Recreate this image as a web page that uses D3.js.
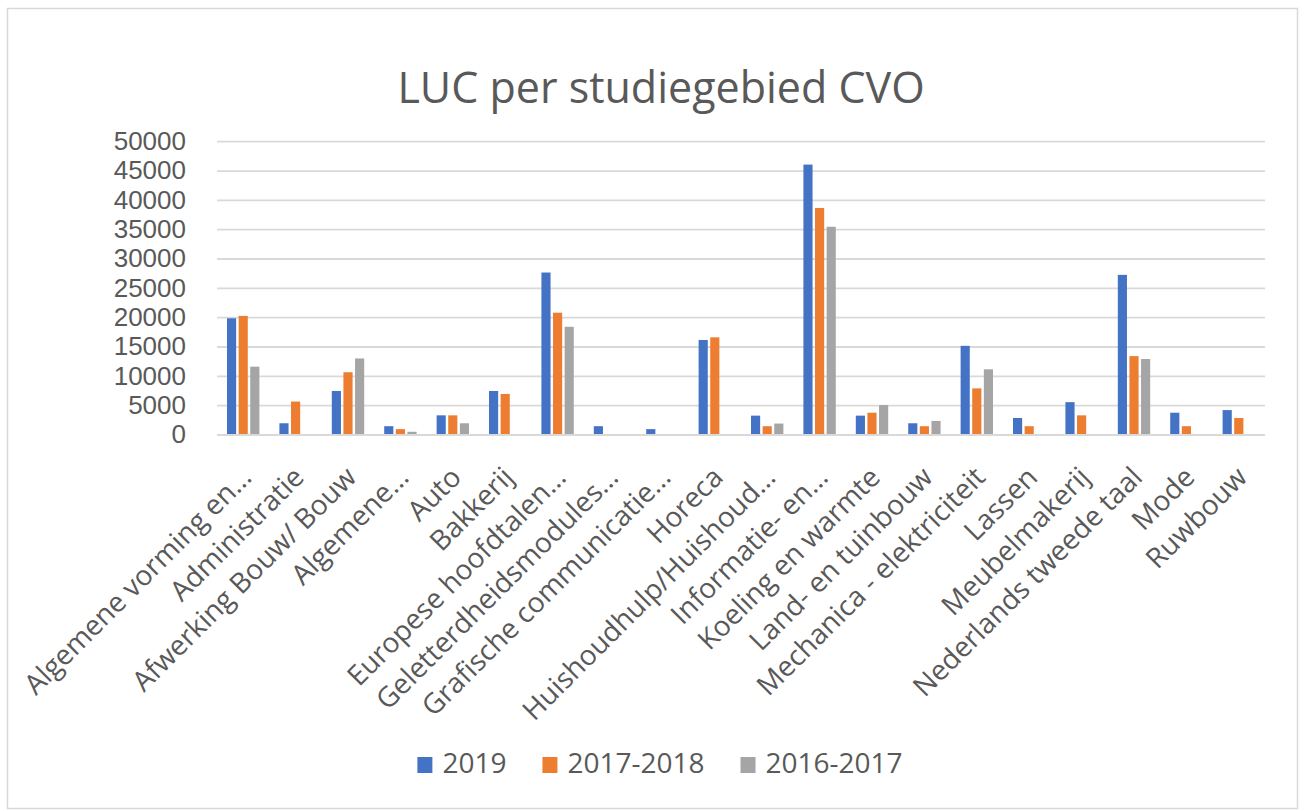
<!DOCTYPE html>
<html>
<head>
<meta charset="utf-8">
<script src="https://cdnjs.cloudflare.com/ajax/libs/d3/7.8.5/d3.min.js"></script>
<style>
  body { margin: 0; background: #fff; }
  svg text { font-family: "Open Sans", sans-serif; fill: #595959; }
</style>
</head>
<body>
<svg id="chart" width="1306" height="811"></svg>
<script>
var categories = ["Algemene vorming en…", "Administratie", "Afwerking Bouw/ Bouw", "Algemene…", "Auto",
    "Bakkerij", "Europese hoofdtalen…", "Geletterdheidsmodules…", "Grafische communicatie…", "Horeca",
    "Huishoudhulp/Huishoud…", "Informatie- en…", "Koeling en warmte", "Land- en tuinbouw",
    "Mechanica - elektriciteit", "Lassen", "Meubelmakerij", "Nederlands tweede taal", "Mode", "Ruwbouw"];

var seriesNames = ["2019", "2017-2018", "2016-2017"];
var seriesColors = ["#4472C4", "#ED7D31", "#A5A5A5"];

var values2019 = [19900, 2000, 7500, 1500, 3350, 7500, 27700, 1500, 1000, 16200,
    3300, 46100, 3300, 2000, 15200, 2900, 5600, 27300, 3800, 4250];
var values2017 = [20300, 5700, 10700, 1000, 3350, 7000, 20850, 0, 0, 16650,
    1500, 38700, 3800, 1500, 7950, 1500, 3350, 13450, 1500, 2900];
var values2016 = [11650, 0, 13050, 550, 2000, 0, 18450, 0, 0, 0,
    1950, 35500, 5100, 2400, 11200, 0, 0, 12950, 0, 0];

var yTicks = [0, 5000, 10000, 15000, 20000, 25000, 30000, 35000, 40000, 45000, 50000];

var title = "LUC per studiegebied CVO";

var seriesValues = [values2019, values2017, values2016];

var svg = d3.select("#chart");

var plot = { left: 217, right: 1265, top: 141.7, bottom: 435 };

// chart frame
svg.append("rect")
    .attr("x", 7.5)
    .attr("y", 8.5)
    .attr("width", 1290)
    .attr("height", 800)
    .attr("fill", "#fff")
    .attr("stroke", "#D9D9D9")
    .attr("stroke-width", 1.5);

var y = d3.scaleLinear()
    .domain([0, 50000])
    .range([plot.bottom, plot.top]);

// gap width 219%, overlap -27% like the spreadsheet default
var x0 = d3.scaleBand()
    .domain(categories)
    .range([plot.left, plot.right])
    .paddingInner(2.19 / 5.73)
    .paddingOuter(2.19 / 5.73 / 2);

var x1 = d3.scaleBand()
    .domain(seriesNames)
    .range([0, x0.bandwidth()])
    .paddingInner(0.27 / 1.27);

// gridlines
svg.append("g")
    .selectAll("line")
    .data(yTicks.filter(function(d) { return d > 0; }))
    .enter()
    .append("line")
    .attr("x1", plot.left)
    .attr("x2", plot.right)
    .attr("y1", function(d) { return y(d); })
    .attr("y2", function(d) { return y(d); })
    .attr("stroke", "#D9D9D9")
    .attr("stroke-width", 1.8);

// y labels (tight font so the stacked labels don't collide)
var yAxis = d3.axisLeft(y)
    .tickValues(yTicks)
    .tickSize(0)
    .tickPadding(0)
    .tickFormat(d3.format("d"));

var yg = svg.append("g")
    .attr("transform", "translate(186,0)")
    .call(yAxis);
yg.select(".domain").remove();
yg.selectAll("text")
    .attr("font-size", 26)
    .attr("dy", "0.3em")
    .style("font-family", "'Liberation Sans', sans-serif")
    .attr("fill", "#595959");

// bars
var groups = svg.append("g")
    .selectAll("g")
    .data(categories)
    .enter()
    .append("g")
    .attr("transform", function(d) { return "translate(" + x0(d) + ",0)"; });

groups.selectAll("rect")
    .data(function(d, i) {
        return seriesNames.map(function(s, j) {
            return { series: s, value: seriesValues[j][i], color: seriesColors[j] };
        });
    })
    .enter()
    .append("rect")
    .attr("x", function(d) { return x1(d.series); })
    .attr("width", x1.bandwidth())
    .attr("y", function(d) { return y(d.value); })
    .attr("height", function(d) { return plot.bottom - y(d.value); })
    .attr("fill", function(d) { return d.color; });

// category axis line
svg.append("line")
    .attr("x1", plot.left)
    .attr("x2", plot.right)
    .attr("y1", plot.bottom)
    .attr("y2", plot.bottom)
    .attr("stroke", "#D9D9D9")
    .attr("stroke-width", 1.8);

// category labels
svg.append("g")
    .selectAll("text")
    .data(categories)
    .enter()
    .append("text")
    .attr("transform", function(d) {
        var cx = x0(d) + x0.bandwidth() / 2;
        return "translate(" + (cx + 10) + "," + (plot.bottom + 44) + ") rotate(-45)";
    })
    .attr("text-anchor", "end")
    .attr("font-size", 28)
    .text(function(d) { return d; });

// title
svg.append("text")
    .attr("x", 661)
    .attr("y", 103)
    .attr("text-anchor", "middle")
    .attr("font-size", 43)
    .text(title);

// legend
var legend = svg.append("g");
var lx = 0;
seriesNames.forEach(function(s, i) {
    var item = legend.append("g").attr("transform", "translate(" + lx + ",0)");
    item.append("rect")
        .attr("x", 0)
        .attr("y", -16)
        .attr("width", 15)
        .attr("height", 16)
        .attr("fill", seriesColors[i]);
    var t = item.append("text")
        .attr("x", 25)
        .attr("y", 0)
        .attr("font-size", 28)
        .text(s);
    lx += 25 + t.node().getComputedTextLength() + 36;
});
lx -= 36;
legend.attr("transform", "translate(" + (660 - lx / 2) + ",773)");
</script>
</body>
</html>
